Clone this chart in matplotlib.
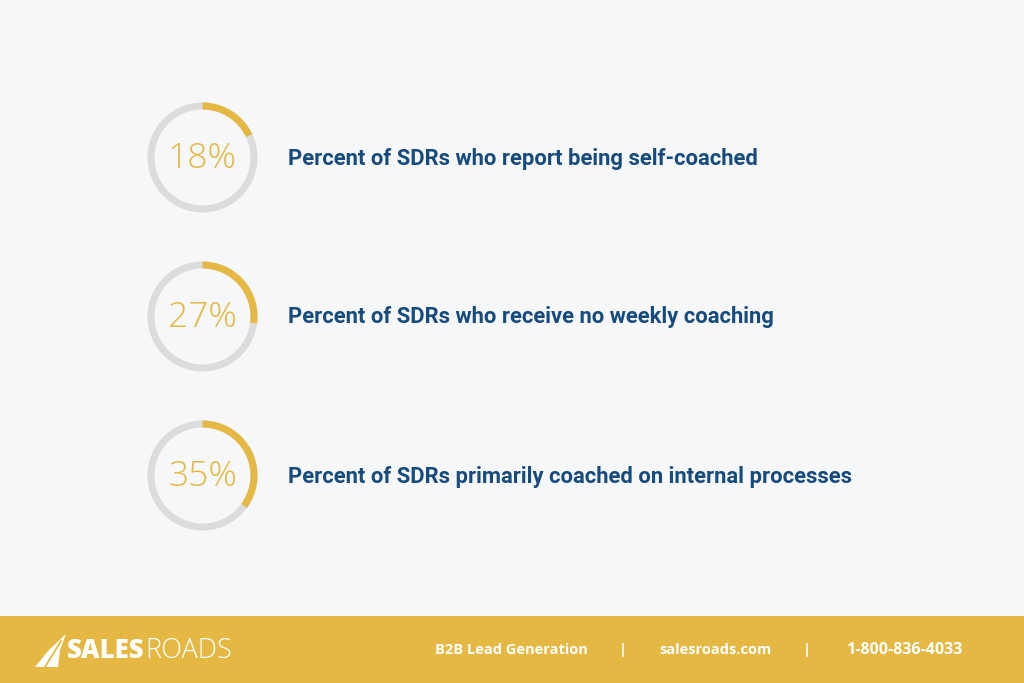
import matplotlib
matplotlib.use("Agg")
import matplotlib.pyplot as plt
from matplotlib.patches import Wedge, Rectangle, Polygon

# data
percents = [18, 27, 35]
labels = [
    "Percent of SDRs who report being self-coached",
    "Percent of SDRs who receive no weekly coaching",
    "Percent of SDRs primarily coached on internal processes",
]
footer_items = ["B2B Lead Generation", "|", "salesroads.com", "|", "1-800-836-4033"]

BG = "#F5F7F9"
GOLD = "#E5B844"
GREY = "#DCDCDC"
NAVY = "#174B7E"

W, H = 1024, 683
fig = plt.figure(figsize=(W / 100, H / 100), dpi=100)
fig.patch.set_facecolor(BG)
ax = fig.add_axes([0, 0, 1, 1])
ax.set_xlim(0, W)
ax.set_ylim(H, 0)
ax.set_aspect("equal")
ax.axis("off")

cx, r, ring = 202.5, 55, 7
for i, (p, lab) in enumerate(zip(percents, labels)):
    cy = 157.5 + i * 159
    ax.add_patch(Wedge((cx, cy), r, 0, 360, width=ring, facecolor=GREY, edgecolor="none"))
    # arc starts at 12 o'clock, runs clockwise (y axis is flipped)
    ax.add_patch(Wedge((cx, cy), r, -90, -90 + 3.6 * p, width=ring,
                       facecolor=GOLD, edgecolor="none"))
    ax.text(cx, cy + 1, f"{p}%", ha="center", va="center", color=GOLD,
            fontsize=25.5, family="Open Sans", fontweight="light")
    ax.text(288, cy + 1, lab, ha="left", va="center", color=NAVY,
            fontsize=15.8, family="Roboto", fontweight="bold")

# footer band
ax.add_patch(Rectangle((0, 616), W, H - 616, facecolor=GOLD, edgecolor="none"))

# logo sail
ax.add_patch(Polygon([(35, 667), (48, 651), (66, 634), (60, 650), (58, 667)],
                     closed=True, facecolor="white", edgecolor="none"))
ax.plot([45, 61], [667, 641], color=GOLD, lw=1.3)

fig.canvas.draw()
ren = fig.canvas.get_renderer()
t1 = ax.text(67, 651, "SALES", ha="left", va="center", color="white",
             fontsize=18.5, family="Open Sans", fontweight="heavy")
bb = t1.get_window_extent(renderer=ren)
x_end = ax.transData.inverted().transform((bb.x1, bb.y0))[0]
ax.text(x_end + 1, 651, "ROADS", ha="left", va="center", color="white",
        fontsize=19.5, family="Open Sans", fontweight="light")

footer_x = [511, 623, 715, 807, 904]
footer_sz = [10.5, 10.5, 10.5, 10.5, 11.5]
for x, t, s in zip(footer_x, footer_items, footer_sz):
    ax.text(x, 650, t, ha="center", va="center", color="white",
            fontsize=s, family="Open Sans", fontweight="bold")

fig.savefig("out.png", dpi=100, facecolor=BG)
